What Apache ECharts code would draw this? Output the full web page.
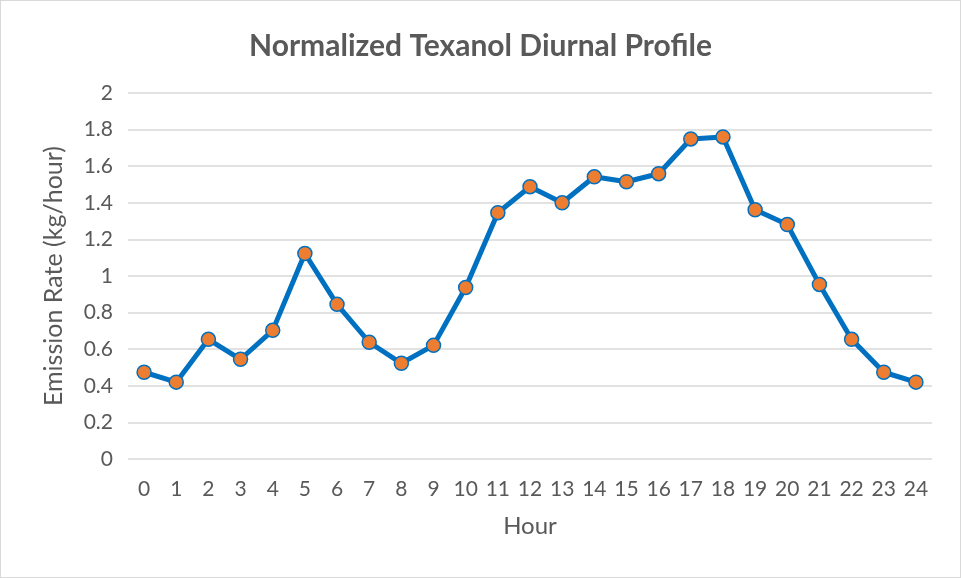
<!DOCTYPE html>
<html><head><meta charset="utf-8">
<script src="https://cdn.jsdelivr.net/npm/echarts@6/dist/echarts.min.js"></script>
<style>html,body{margin:0;padding:0;background:#fff}
#c{position:absolute;left:0;top:0;width:959px;height:576px;border:1px solid #d9d9d9}</style>
</head><body><div id="c"></div>
<script>
const hours = ['0','1','2','3','4','5','6','7','8','9','10','11','12','13','14','15','16','17','18','19','20','21','22','23','24'];
const emission = [0.474,0.42,0.654,0.545,0.703,1.123,0.845,0.638,0.523,0.621,0.937,1.346,1.488,1.40,1.542,1.515,1.559,1.749,1.760,1.362,1.281,0.954,0.654,0.474,0.42];
const yTicks = [0,0.2,0.4,0.6,0.8,1,1.2,1.4,1.6,1.8,2];
const chart = echarts.init(document.getElementById('c'));
const font = 'Lato, "Open Sans", sans-serif';
chart.setOption({
  animation:false,
  title:{text:'Normalized Texanol Diurnal Profile',left:'center',top:25,
    textStyle:{fontFamily:font,fontSize:30,fontWeight:'bold',color:'#595959'}},
  grid:{left:127,right:28,top:92,bottom:118},
  xAxis:{type:'category',data:hours,boundaryGap:true,
    name:'Hour',nameLocation:'middle',nameGap:55,
    nameTextStyle:{fontFamily:font,fontSize:24,color:'#595959'},
    axisLine:{show:false},axisTick:{show:false},
    axisLabel:{fontFamily:font,fontSize:21,color:'#595959',margin:20}},
  yAxis:{type:'value',min:0,max:2,interval:0.2,
    name:'Emission Rate (kg/hour)',nameLocation:'middle',nameGap:62,
    nameTextStyle:{fontFamily:font,fontSize:25,color:'#595959'},
    axisLine:{show:false},axisTick:{show:false},
    splitLine:{lineStyle:{color:'#d9d9d9',width:1.5}},
    axisLabel:{fontFamily:font,fontSize:21,color:'#595959',margin:15,
      formatter:v=>{const t=yTicks.find(x=>Math.abs(x-v)<1e-6);return String(+(t!==undefined?t:v).toFixed(1));}}},
  series:[{type:'line',data:emission,symbol:'circle',symbolSize:14,
    lineStyle:{color:'#0070C0',width:5},
    itemStyle:{color:'#ED7D31',borderColor:'#0070C0',borderWidth:1.5}}]
});
</script></body></html>
